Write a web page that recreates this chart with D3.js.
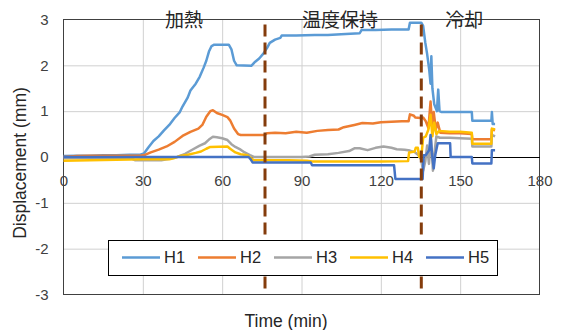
<!DOCTYPE html>
<html>
<head>
<meta charset="utf-8">
<script src="https://cdn.jsdelivr.net/npm/d3@7"></script>
<style>
  body { margin: 0; background: #fff; }
  svg { display: block; }
</style>
</head>
<body>
<div id="chart"></div>
<script>
// series data: [time (min), displacement (mm)]
const h1 = [[0,0.02],[5,0.03],[10,0.03],[15,0.04],[20,0.04],[25,0.05],[29,0.05],[30.5,0.08],[32,0.2],[34,0.35],[36,0.45],[38,0.58],[40,0.7],[42,0.85],[44,0.98],[45,1.1],[47,1.3],[48,1.45],[50,1.6],[51.5,1.75],[53,1.95],[54,2.1],[55,2.3],[56,2.42],[57,2.45],[62.5,2.45],[63.5,2.35],[64.5,2.1],[65.5,2.0],[71,1.99],[72.5,2.08],[74,2.15],[75.5,2.25],[77,2.38],[78,2.49],[80,2.56],[82,2.6],[82.5,2.65],[88,2.65],[95,2.66],[100,2.66],[105,2.68],[112,2.7],[112.7,2.77],[118,2.77],[124,2.78],[130.5,2.78],[131,2.93],[135.3,2.93],[136,2.86],[136.8,2.5],[137.5,2.25],[138.3,1.9],[138.8,1.6],[139.1,2.2],[139.5,1.5],[140.2,1.15],[141.2,1.0],[141.7,1.47],[142.2,1.0],[143,0.98],[148,0.98],[154.4,0.98],[154.6,0.79],[161.8,0.79],[162,0.98],[162.3,0.72],[163.2,0.72]];
const h2 = [[0,0.0],[5,0.02],[10,0.03],[20,0.03],[29,0.03],[31,0.05],[33,0.1],[36,0.16],[39,0.23],[42,0.33],[45,0.46],[48,0.55],[51,0.62],[52.5,0.7],[54,0.88],[55.5,1.0],[56.5,1.02],[58,0.96],[60,0.92],[62,0.87],[63,0.8],[64.5,0.62],[66,0.5],[67,0.48],[76,0.48],[77,0.52],[80,0.53],[84,0.52],[88,0.55],[92,0.53],[96,0.57],[100,0.59],[104,0.6],[106,0.65],[110,0.7],[113,0.74],[117,0.73],[120,0.76],[124,0.77],[128,0.78],[130.5,0.78],[131,0.93],[132.5,0.9],[133,0.86],[135,0.85],[136,0.86],[137,0.78],[138,0.63],[138.8,1.21],[139.4,0.7],[140,0.98],[140.8,0.6],[141.5,0.75],[142.5,0.53],[146,0.52],[150,0.52],[154.4,0.5],[154.6,0.39],[161.8,0.39],[162,0.6],[163.2,0.58]];
const h3 = [[0,-0.03],[10,-0.02],[20,-0.02],[26,-0.04],[27,-0.07],[37,-0.07],[40,-0.04],[43,0.0],[46,0.07],[49,0.17],[51.5,0.25],[53.5,0.3],[55,0.38],[56.5,0.44],[58,0.43],[60,0.41],[62,0.37],[63.5,0.28],[65,0.22],[67,0.16],[68.5,0.1],[70.5,0.04],[72,0.0],[80,0.0],[90,0.0],[93,0.01],[95,0.05],[100,0.06],[104,0.09],[108,0.13],[110,0.19],[112,0.19],[115,0.15],[118,0.2],[121,0.23],[124,0.2],[126,0.17],[129,0.16],[131,0.14],[133,0.1],[134.3,0.04],[135.2,-0.05],[136,-0.3],[136.8,-0.1],[137.5,0.25],[138.2,-0.15],[139,0.4],[139.7,-0.3],[140.3,0.1],[141,0.45],[142.3,0.42],[146,0.42],[150,0.41],[154.4,0.4],[154.6,0.23],[161.8,0.23],[162,0.48],[163.2,0.45]];
const h4 = [[0,-0.08],[10,-0.07],[20,-0.06],[30,-0.05],[40,-0.05],[42,-0.02],[44,0.02],[47,0.05],[50,0.09],[52,0.12],[54,0.18],[55.5,0.22],[62,0.23],[63,0.18],[65,0.1],[67,0.06],[69.5,0.04],[71,-0.03],[72,-0.07],[85,-0.07],[92,-0.08],[94,-0.1],[110,-0.1],[120,-0.1],[130.3,-0.09],[130.7,0.1],[132.8,0.12],[133.2,0.2],[134,0.2],[134.5,0.0],[135.3,0.0],[136,0.42],[137,0.45],[138,0.6],[138.8,0.92],[139.5,0.45],[140.2,0.75],[141,0.5],[142,0.57],[146,0.55],[150,0.55],[154.4,0.53],[154.6,0.29],[161.8,0.29],[162,0.62],[163.2,0.6]];
const h5 = [[0,0.0],[30,0.0],[60,0.0],[70,0.0],[70.8,-0.05],[71.5,-0.12],[76,-0.12],[93.5,-0.12],[94,-0.18],[110,-0.18],[125,-0.18],[125.5,-0.48],[135.8,-0.48],[136.2,0.04],[137,0.04],[138.3,0.15],[138.8,0.48],[139.3,0.1],[140,-0.25],[140.6,0.05],[141.5,0.3],[146.2,0.3],[146.4,0.0],[154.4,0.0],[154.6,-0.14],[161.8,-0.14],[162,0.15],[163.2,0.15]];

const seriesNames = ["H1", "H2", "H3", "H4", "H5"];
const seriesData = [h1, h2, h3, h4, h5];
const seriesColors = ["#5b9bd5", "#ed7d31", "#a5a5a5", "#ffc000", "#4472c4"];

// tick labels
const xTicks = [0, 30, 60, 90, 120, 150, 180];
const yTicks = [-3, -2, -1, 0, 1, 2, 3];

// phase boundaries and labels
const phaseLines = [76.2, 135.3];
const phaseLabels = ["加熱", "温度保持", "冷却"];
const phaseLabelTimes = [45.6, 104.6, 151.5];

const w = 568, h = 330;
const margin = { t: 19.5, r: 28.5, b: 35.5, l: 63.5 };
const font = "'Liberation Sans', Arial, sans-serif";

const svg = d3.select("#chart").append("svg")
  .attr("width", w)
  .attr("height", h)
  .attr("font-family", font);

// scaleX
const scaleX = d3.scaleLinear()
  .domain([0, 180])
  .range([margin.l, w - margin.r]);

// scaleY
const scaleY = d3.scaleLinear()
  .domain([-3, 3])
  .range([h - margin.b, margin.t]);

// gridX
svg.append("g")
  .attr("transform", `translate(0, ${margin.t})`)
  .call(d3.axisBottom(scaleX).tickValues(xTicks.slice(1, -1))
    .tickSizeInner(h - margin.b - margin.t).tickSizeOuter(0).tickFormat(""))
  .call(g => g.select(".domain").remove())
  .call(g => g.selectAll("line").attr("stroke", "#d0d0d0"));

// gridY
svg.append("g")
  .attr("transform", `translate(${margin.l}, 0)`)
  .call(d3.axisRight(scaleY).tickValues(yTicks.filter(d => d !== 0 && Math.abs(d) !== 3))
    .tickSizeInner(w - margin.l - margin.r).tickSizeOuter(0).tickFormat(""))
  .call(g => g.select(".domain").remove())
  .call(g => g.selectAll("line").attr("stroke", "#d0d0d0"));

// plot frame
svg.append("rect")
  .attr("x", margin.l)
  .attr("y", margin.t)
  .attr("width", w - margin.l - margin.r)
  .attr("height", h - margin.t - margin.b)
  .attr("fill", "none")
  .attr("stroke", "#404040");

// zero line + x labels
const ax = svg.append("g")
  .attr("transform", `translate(0, ${scaleY(0)})`)
  .call(d3.axisBottom(scaleX).tickValues(xTicks).tickSize(0).tickPadding(18).tickFormat(d => String(d)))
  .call(g => g.select(".domain").attr("stroke", "#000"));
ax.selectAll("text").attr("font-size", 15).attr("fill", "#404040").attr("font-family", font);

// y labels
const ay = svg.append("g")
  .attr("transform", `translate(${margin.l}, 0)`)
  .call(d3.axisLeft(scaleY).tickValues(yTicks).tickSize(0).tickPadding(15).tickFormat(d => String(d)))
  .call(g => g.select(".domain").remove());
ay.selectAll("text").attr("font-size", 15).attr("fill", "#404040").attr("font-family", font);

// data lines
const line = d3.line()
  .x(d => scaleX(d[0]))
  .y(d => scaleY(d[1]));

svg.append("g")
  .selectAll("path")
  .data(seriesData)
  .join("path")
  .attr("d", line)
  .attr("fill", "none")
  .attr("stroke", (d, i) => seriesColors[i])
  .attr("stroke-width", 2.5)
  .attr("stroke-linejoin", "round");

// phase dashed lines
svg.append("g")
  .selectAll("line")
  .data(phaseLines)
  .join("line")
  .attr("x1", d => scaleX(d))
  .attr("x2", d => scaleX(d))
  .attr("y1", scaleY(2.89))
  .attr("y2", scaleY(-2.95))
  .attr("stroke", "#843c0c")
  .attr("stroke-width", 3)
  .attr("stroke-dasharray", "12,6");

// phase labels
svg.append("g")
  .selectAll("text")
  .data(phaseLabels)
  .join("text")
  .attr("x", (d, i) => scaleX(phaseLabelTimes[i]))
  .attr("y", 27)
  .attr("text-anchor", "middle")
  .attr("font-family", "'Noto Sans CJK JP', sans-serif")
  .attr("font-size", 19)
  .attr("fill", "#262626")
  .text(d => d);

// legend
const legend = svg.append("g").attr("transform", "translate(108.5, 240.5)");
legend.append("rect")
  .attr("width", 389)
  .attr("height", 35)
  .attr("fill", "#fff")
  .attr("stroke", "#000");
const items = legend.selectAll("g")
  .data(seriesNames)
  .join("g")
  .attr("transform", (d, i) => `translate(${13.5 + i * 76}, 17)`);
items.append("line")
  .attr("x1", 0)
  .attr("x2", 38)
  .attr("stroke", (d, i) => seriesColors[i])
  .attr("stroke-width", 2.5);
items.append("text")
  .attr("x", 42)
  .attr("dy", "0.36em")
  .attr("font-size", 16.5)
  .attr("fill", "#262626")
  .text(d => d);

// axis titles
svg.append("text")
  .attr("x", 286)
  .attr("y", 327)
  .attr("text-anchor", "middle")
  .attr("font-size", 17.5)
  .attr("fill", "#262626")
  .text("Time (min)");

svg.append("text")
  .attr("transform", `translate(26, 163) rotate(-90)`)
  .attr("text-anchor", "middle")
  .attr("font-size", 17.5)
  .attr("fill", "#262626")
  .text("Displacement (mm)");
</script>
</body>
</html>
